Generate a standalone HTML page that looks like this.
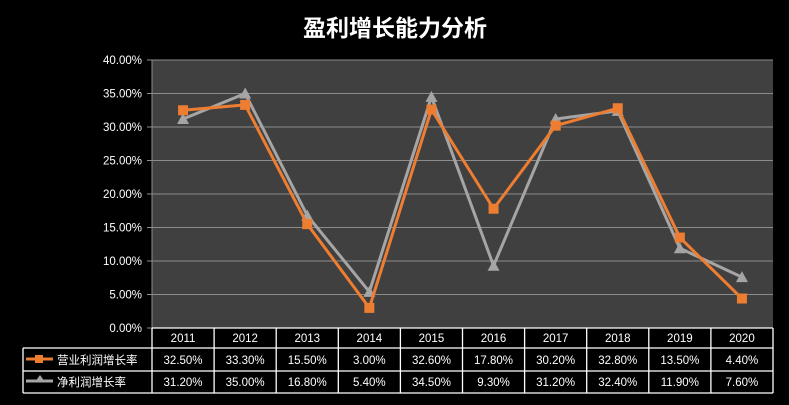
<!DOCTYPE html>
<html><head><meta charset="utf-8"><style>
body{margin:0;background:#000;width:789px;height:400px;overflow:hidden}
text{font-family:"Liberation Sans","Noto Sans CJK SC",sans-serif}
</style></head><body>
<svg id="c" width="789" height="400">
<text x="395" y="36" fill="#fff" font-size="23" font-weight="bold" text-anchor="middle">盈利增长能力分析</text>
<rect x="152" y="60" width="621" height="268" fill="#404040"/>
<g id="g"></g>
</svg>
<script>
const categories=["2011","2012","2013","2014","2015","2016","2017","2018","2019","2020"];
const revenueGrowth=[32.5,33.3,15.5,3.0,32.6,17.8,30.2,32.8,13.5,4.4];
const netGrowth=[31.2,35.0,16.8,5.4,34.5,9.3,31.2,32.4,11.9,7.6];
const yTicks=[0,5,10,15,20,25,30,35,40];
const seriesNames=["营业利润增长率","净利润增长率"];
const L=152,R=773,T=60,B=328;
const x=i=>L+(i+0.5)*(R-L)/categories.length;
const y=v=>B-(v/40)*(B-T);
const g=document.getElementById('g');
const NS="http://www.w3.org/2000/svg";
function mk(t,a,p){const e=document.createElementNS(NS,t);for(const k in a)e.setAttribute(k,a[k]);(p||g).appendChild(e);return e;}
yTicks.forEach(v=>{
 if(v>0){const l=mk('line',{x1:L,x2:R,y1:y(v),y2:y(v),stroke:'#8c8c8c','stroke-width':1});
 
 }
 const tk=mk('line',{x1:L-5,x2:L,y1:y(v),y2:y(v),stroke:'#8c8c8c'});
 
 
 const t=mk('text',{x:L-10,y:y(v)+4,fill:'#fff','font-size':11.5,'text-anchor':'end'});
 t.textContent=v.toFixed(2)+'%';
 
 
});
mk('line',{x1:L,x2:L,y1:T,y2:B,stroke:'#8c8c8c'});
// series
function series(vals,col,shape,name){
 const pts=vals.map((v,i)=>x(i)+','+y(v)).join(' ');
 const pl=mk('polyline',{points:pts,fill:'none',stroke:col,'stroke-width':3,'stroke-linejoin':'round'});
 
 
 vals.forEach((v,i)=>{
  let m;
  if(shape==='sq')m=mk('rect',{x:x(i)-5,y:y(v)-5,width:10,height:10,fill:col});
  else m=mk('polygon',{points:`${x(i)-6},${y(v)+5} ${x(i)+6},${y(v)+5} ${x(i)},${y(v)-6}`,fill:col});
  
  
 });
}
series(netGrowth,'#a5a5a5','tri','net-profit-growth');
series(revenueGrowth,'#ed7d31','sq','operating-profit-growth');
// table
const rows=[328,348,371,393];
const W=(R-L)/categories.length;
function ln(a,b,c,d){const l=mk('line',{x1:a,y1:b,x2:c,y2:d,stroke:'#fff','stroke-width':1.3});}
ln(L,328,R,328);ln(23,348,R,348);ln(23,371,R,371);ln(23,393,R,393);
ln(23,348,23,393);
for(let i=0;i<=categories.length;i++)ln(L+i*W,328,L+i*W,393);
function txt(s,xx,yy,name,anchor){const t=mk('text',{x:xx,y:yy,fill:'#fff','font-size':11.5,'text-anchor':anchor||'middle'});t.textContent=s;}
categories.forEach((c,i)=>{
 txt(c,x(i),342,'x-category-label');
 txt(revenueGrowth[i].toFixed(2)+'%',x(i),364,'table-value');
 txt(netGrowth[i].toFixed(2)+'%',x(i),386,'table-value');
});
// legend keys
const k1=mk('line',{x1:26,x2:53,y1:359,y2:359,stroke:'#ed7d31','stroke-width':3});


mk('rect',{x:35,y:355,width:8,height:8,fill:'#ed7d31'});
const k2=mk('line',{x1:26,x2:53,y1:381,y2:381,stroke:'#a5a5a5','stroke-width':3});


mk('polygon',{points:'35,382 45,382 40,375',fill:'#a5a5a5'});
txt(seriesNames[0],57,364,'legend-entry','start');
txt(seriesNames[1],57,386,'legend-entry','start');
</script>
</body></html>
